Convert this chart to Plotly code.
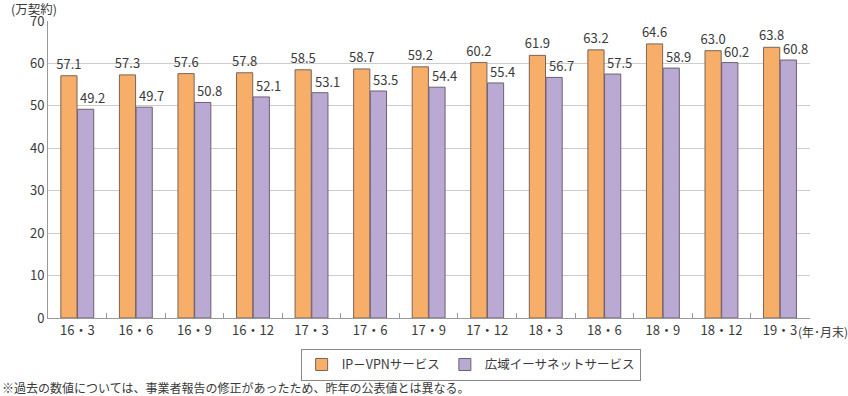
import plotly.graph_objects as go

categories = ["16・3", "16・6", "16・9", "16・12", "17・3", "17・6", "17・9",
              "17・12", "18・3", "18・6", "18・9", "18・12", "19・3"]
ipvpn = [57.1, 57.3, 57.6, 57.8, 58.5, 58.7, 59.2, 60.2, 61.9, 63.2, 64.6, 63.0, 63.8]
ethernet = [49.2, 49.7, 50.8, 52.1, 53.1, 53.5, 54.4, 55.4, 56.7, 57.5, 58.9, 60.2, 60.8]
y_ticks = [0, 10, 20, 30, 40, 50, 60, 70]

FONT = "Noto Sans CJK JP"
TXT = "#3a3a3a"

fig = go.Figure()
fig.add_trace(go.Bar(
    x=categories, y=ipvpn, name="IP－VPNサービス",
    marker=dict(color="#F7AE68", line=dict(color="#7a6458", width=1)),
    text=[f"{v:.1f}" for v in ipvpn], textposition="outside",
    constraintext="none",
    textfont=dict(size=13, color=TXT, family=FONT), cliponaxis=False,
))
fig.add_trace(go.Bar(
    x=categories, y=ethernet, name="広域イーサネットサービス",
    marker=dict(color="#B9A9D3", line=dict(color="#6e6070", width=1)),
    cliponaxis=False,
))

# value labels for the purple series, sitting slightly right of the bar centre
eth_labels = [
    dict(text=f"{v:.1f}", x=c, y=v, xref="x", yref="y", xanchor="center",
         yanchor="bottom", xshift=15.5, yshift=0, showarrow=False,
         font=dict(size=13, color=TXT, family=FONT))
    for c, v in zip(categories, ethernet)
]

fig.update_layout(
    width=848, height=396,
    margin=dict(l=48, r=38, t=21, b=78, autoexpand=False),
    paper_bgcolor="white", plot_bgcolor="white",
    font=dict(family=FONT, size=13, color=TXT),
    barmode="group", bargap=0.43, bargroupgap=0.03,
    showlegend=True,
    legend=dict(
        orientation="h", xref="container", yref="container",
        x=0.555, xanchor="center", y=0.119, yanchor="top",
        bordercolor="#888888", borderwidth=1, bgcolor="white",
        font=dict(size=12.5, color=TXT, family=FONT),
        itemwidth=30, traceorder="normal",
    ),
    xaxis=dict(
        type="category", showgrid=False, showline=True, linecolor="#999999",
        linewidth=1, ticks="inside", tickson="boundaries", ticklen=5,
        tickcolor="#999999", tickfont=dict(size=13, color=TXT, family=FONT),
    ),
    yaxis=dict(
        range=[0, 70], tickvals=y_ticks, showgrid=True, gridcolor="#cccccc",
        gridwidth=1, showline=True, linecolor="#999999", linewidth=1,
        ticks="", tickfont=dict(size=13, color=TXT, family=FONT), zeroline=False,
    ),
    annotations=eth_labels + [
        dict(text="(万契約)", xref="paper", yref="paper", x=-0.05, y=1.041,
             xanchor="left", yanchor="middle", showarrow=False, borderpad=0,
             font=dict(size=12.5, color=TXT, family=FONT)),
        dict(text="(年･月末)", xref="paper", yref="paper", x=0.982, y=0,
             xanchor="left", yanchor="top", xshift=0, yshift=-3, showarrow=False,
             font=dict(size=12, color=TXT, family=FONT)),
        dict(text="※過去の数値については、事業者報告の修正があったため、昨年の公表値とは異なる。",
             xref="paper", yref="paper", x=-0.063, y=-0.2, xanchor="left",
             yanchor="top", showarrow=False,
             font=dict(size=12, color=TXT, family=FONT)),
    ],
)

fig.write_html(
    "out.html",
    config={"displayModeBar": False},
    post_script="document.body.style.margin='0';document.body.style.overflow='hidden';",
)
